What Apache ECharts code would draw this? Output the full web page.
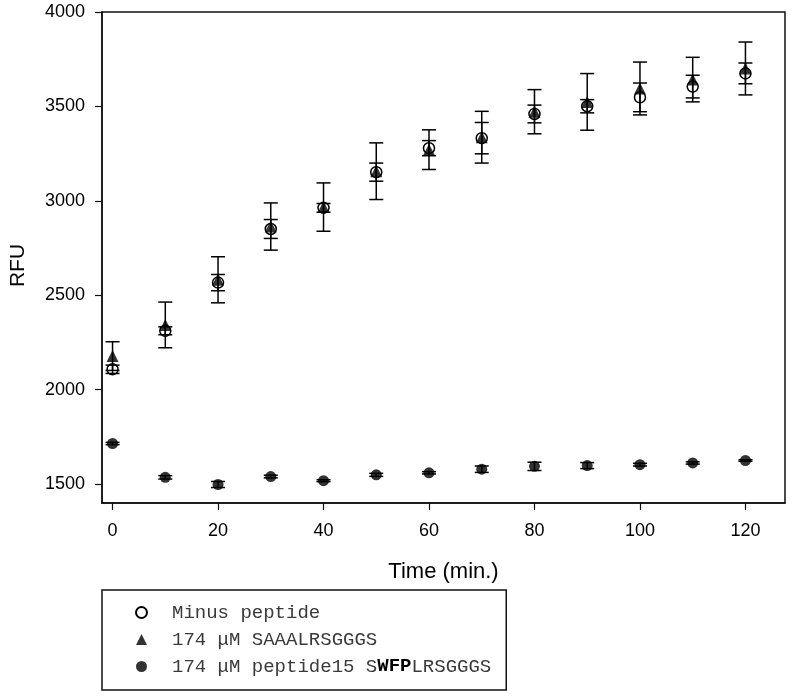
<!DOCTYPE html>
<html>
<head>
<meta charset="utf-8">
<script src="https://cdn.jsdelivr.net/npm/echarts@6/dist/echarts.min.js"></script>
<style>html,body{margin:0;padding:0;background:#fff;}#chart{width:792px;height:696px;}</style>
</head>
<body>
<div id="chart"></div>
<script>
// ---- data ----
var times = [0, 10, 20, 30, 40, 50, 60, 70, 80, 90, 100, 110, 120];
var minusPeptide = [2108, 2312, 2567, 2851, 2963, 3152, 3279, 3332, 3460, 3501, 3548, 3605, 3675];
var minusPeptideErr = [22, 21, 43, 50, 23, 48, 40, 83, 47, 35, 76, 60, 55];
var saaa = [2178, 2343, 2582, 2864, 2967, 3157, 3271, 3337, 3472, 3524, 3595, 3642, 3701];
var saaaErr = [76, 121, 122, 125, 128, 150, 105, 137, 117, 150, 140, 118, 140];
var peptide15 = [1715, 1536, 1498, 1540, 1518, 1549, 1560, 1579, 1594, 1598, 1603, 1612, 1625];
var peptide15Err = [6, 9, 16, 7, 5, 8, 6, 17, 22, 16, 7, 6, 4];
var seriesNames = ['Minus peptide', '174 \u03bcM SAAALRSGGGS', '174 \u03bcM peptide15 SWFPLRSGGGS'];
var xTicks = [0, 20, 40, 60, 80, 100, 120];
var yTicks = [1500, 2000, 2500, 3000, 3500, 4000];
var xTitle = 'Time (min.)';
var yTitle = 'RFU';

function pts(vals) { return times.map(function (t, i) { return [t, vals[i]]; }); }
function errPts(vals, errs) { return times.map(function (t, i) { return [t, vals[i], errs[i]]; }); }

function errRender(params, api) {
  var x = api.value(0), y = api.value(1), e = api.value(2);
  var hi = api.coord([x, y + e]), lo = api.coord([x, y - e]);
  var hw = 7;
  var st = { stroke: '#000', lineWidth: 1.5 };
  return {
    type: 'group',
    children: [
      { type: 'line', shape: { x1: hi[0], y1: hi[1], x2: lo[0], y2: lo[1] }, style: st },
      { type: 'line', shape: { x1: hi[0] - hw, y1: hi[1], x2: hi[0] + hw, y2: hi[1] }, style: st },
      { type: 'line', shape: { x1: lo[0] - hw, y1: lo[1], x2: lo[0] + hw, y2: lo[1] }, style: st }
    ]
  };
}

var chart = echarts.init(document.getElementById('chart'), null, { renderer: 'canvas' });
var sansFont = 'Liberation Sans, Arial, sans-serif';
var monoFont = 'Liberation Mono, Courier New, monospace';

chart.setOption({
  animation: false,
  backgroundColor: '#fff',
  grid: { left: 102, right: 7, top: 12, bottom: 193, show: true, borderColor: '#111', borderWidth: 1.5, backgroundColor: 'transparent' },
  xAxis: {
    type: 'value', min: -2, max: 127.5,
    name: xTitle, nameLocation: 'middle', nameGap: 58,
    nameTextStyle: { fontFamily: sansFont, fontSize: 22, color: '#000' },
    axisLine: { show: true, onZero: false, lineStyle: { color: '#111', width: 1.5 } },
    axisTick: { show: true, inside: false, length: 7, customValues: xTicks, lineStyle: { color: '#111', width: 1.2 } },
    axisLabel: { margin: 19, fontSize: 18, customValues: xTicks, fontFamily: sansFont, color: '#000',
      formatter: function (v) { return String(v); } },
    splitLine: { show: false }
  },
  yAxis: {
    type: 'value', min: 1400, max: 4000,
    name: yTitle, nameLocation: 'middle', nameGap: 73, nameRotate: 90,
    nameTextStyle: { fontFamily: sansFont, fontSize: 21, color: '#000', padding: [0, 16, 0, 0] },
    axisLine: { show: true, onZero: false, lineStyle: { color: '#111', width: 1.5 } },
    axisTick: { show: true, inside: false, length: 7, customValues: yTicks, lineStyle: { color: '#111', width: 1.2 } },
    axisLabel: { margin: 17, fontSize: 18, customValues: yTicks, fontFamily: sansFont, color: '#000',
      formatter: function (v) { return String(v); } },
    splitLine: { show: false }
  },
  legend: {
    data: seriesNames,
    orient: 'vertical',
    left: 102, top: 590,
    padding: [13, 15, 14, 33],
    itemWidth: 11, itemHeight: 11, itemGap: 8,
    borderColor: '#111', borderWidth: 1.5, borderRadius: 0,
    backgroundColor: '#fff',
    selectedMode: false,
    textStyle: {
      fontFamily: monoFont, fontSize: 19, lineHeight: 19, color: '#3a3a3a', padding: [0, 0, 0, 20],
      rich: { b: { fontFamily: monoFont, fontSize: 19, lineHeight: 19, fontWeight: 'bold', color: '#000' } }
    },
    formatter: function (name) {
      if (name === seriesNames[2]) {
        return name.replace('WFP', '{b|WFP}');
      }
      return name;
    }
  },
  series: [
    {
      name: seriesNames[0], type: 'scatter', data: pts(minusPeptide), symbol: 'circle', symbolSize: 11, z: 2,
      itemStyle: { color: '#fff', borderColor: '#000', borderWidth: 1.5, opacity: 1 }
    },
    {
      name: seriesNames[1], type: 'scatter', data: pts(saaa), symbol: 'triangle', symbolSize: 12, z: 3,
      itemStyle: { color: '#000', borderColor: '#000', borderWidth: 0 }
    },
    {
      name: seriesNames[2], type: 'scatter', data: pts(peptide15), symbol: 'circle', symbolSize: 11, z: 4,
      itemStyle: { color: '#000', borderColor: '#000', borderWidth: 0 }
    },
    { name: 'err0', type: 'custom', data: errPts(minusPeptide, minusPeptideErr), renderItem: errRender, encode: { x: 0, y: 1 }, z: 5, silent: true },
    { name: 'err1', type: 'custom', data: errPts(saaa, saaaErr), renderItem: errRender, encode: { x: 0, y: 1 }, z: 5, silent: true },
    { name: 'err2', type: 'custom', data: errPts(peptide15, peptide15Err), renderItem: errRender, encode: { x: 0, y: 1 }, z: 5, silent: true }
  ]
});
</script>
</body>
</html>
